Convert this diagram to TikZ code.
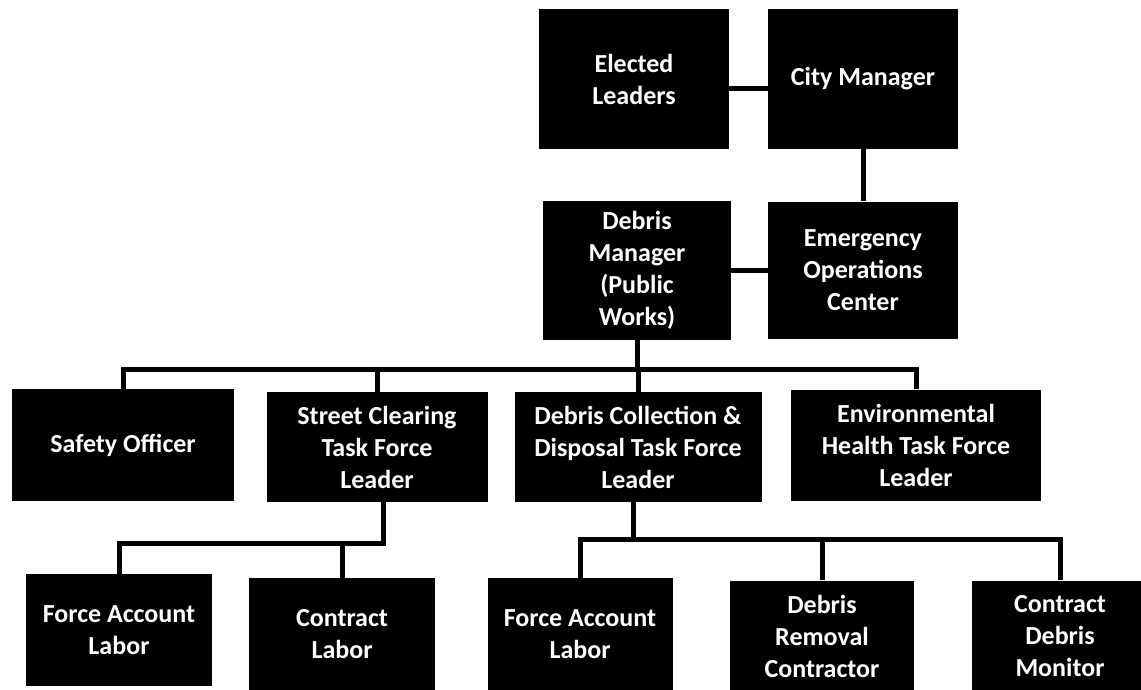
\documentclass[tikz,border=0pt]{standalone}
\usepackage{fontspec}
\setmainfont{Carlito}
\tikzset{
    box/.style={fill=black, text=white, align=center, inner sep=0pt,
        font=\bfseries\fontsize{26}{32}\selectfont},
    link/.style={line width=5pt, line join=miter},
}
\begin{document}
\begin{tikzpicture}[x=1pt,y=-1pt]
        \useasboundingbox (0,0) rectangle (1141,689);
        \clip (0,0) rectangle (1141,689);
        %% Leaders and managers
        \node[box,minimum width=190pt,minimum height=140pt] (elected) at (634,79) {Elected\\Leaders};
        \node[box,minimum width=190pt,minimum height=140pt] (city) at (863,79) {City Manager};
        \node[box,minimum width=188pt,minimum height=139pt] (debrismgr) at (637,270) {Debris\\Manager\\(Public\\Works)};
        \node[box,minimum width=190pt,minimum height=137pt] (eoc) at (863,270) {Emergency\\Operations\\Center};
        \draw[link] ([yshift=-9pt]elected.east) -- ([yshift=-9pt]city.west);
        \draw[link] (city.south) -- (eoc.north);
        \draw[link] (debrismgr.east) -- (eoc.west);
        %% Task force row
        \coordinate (busA) at (0,369);
        \node[box,minimum width=222pt,minimum height=112pt] (safety) at (123,445) {Safety Officer};
        \node[box,minimum width=221pt,minimum height=110pt] (street) at (377,447) {Street Clearing\\Task Force\\Leader};
        \node[box,minimum width=247pt,minimum height=110pt] (collect) at (638,447) {Debris Collection \&\\Disposal Task Force\\Leader};
        \node[box,minimum width=250pt,minimum height=111pt] (health) at (916,445) {Environmental\\Health Task Force\\Leader};
        \draw[link] (safety.north) -- (safety.north |- busA) -- (health.north |- busA) -- (health.north);
        \draw[link] (debrismgr.south) -- (debrismgr.south |- busA);
        \foreach \n in {street,collect}
            \draw[link] (\n.north) -- (\n.north |- busA);
        %% Street clearing crews
        \coordinate (busB) at (0,543);
        \node[box,minimum width=186pt,minimum height=112pt] (forceA) at (119,630) {Force Account\\Labor};
        \node[box,minimum width=186pt,minimum height=112pt] (contract) at (342,634) {Contract\\Labor};
        \draw[link] (forceA.north) -- (forceA.north |- busB) -- ([xshift=6pt]street.south |- busB) -- ([xshift=6pt]street.south);
        \draw[link] (contract.north) -- (contract.north |- busB);
        %% Collection and disposal crews
        \coordinate (busC) at (0,539);
        \node[box,minimum width=185pt,minimum height=112pt] (forceB) at (580,634) {Force Account\\Labor};
        \node[box,minimum width=184pt,minimum height=111pt] (removal) at (822,636) {Debris\\Removal\\Contractor};
        \node[box,minimum width=176pt,minimum height=111pt] (monitor) at (1060,636) {Contract\\Debris\\Monitor};
        \draw[link] (forceB.north) -- (forceB.north |- busC) -- (monitor.north |- busC) -- (monitor.north);
        \draw[link] ([xshift=-5pt]collect.south) -- ([xshift=-5pt]collect.south |- busC);
        \draw[link] (removal.north) -- (removal.north |- busC);
    \end{tikzpicture}
\end{document}
